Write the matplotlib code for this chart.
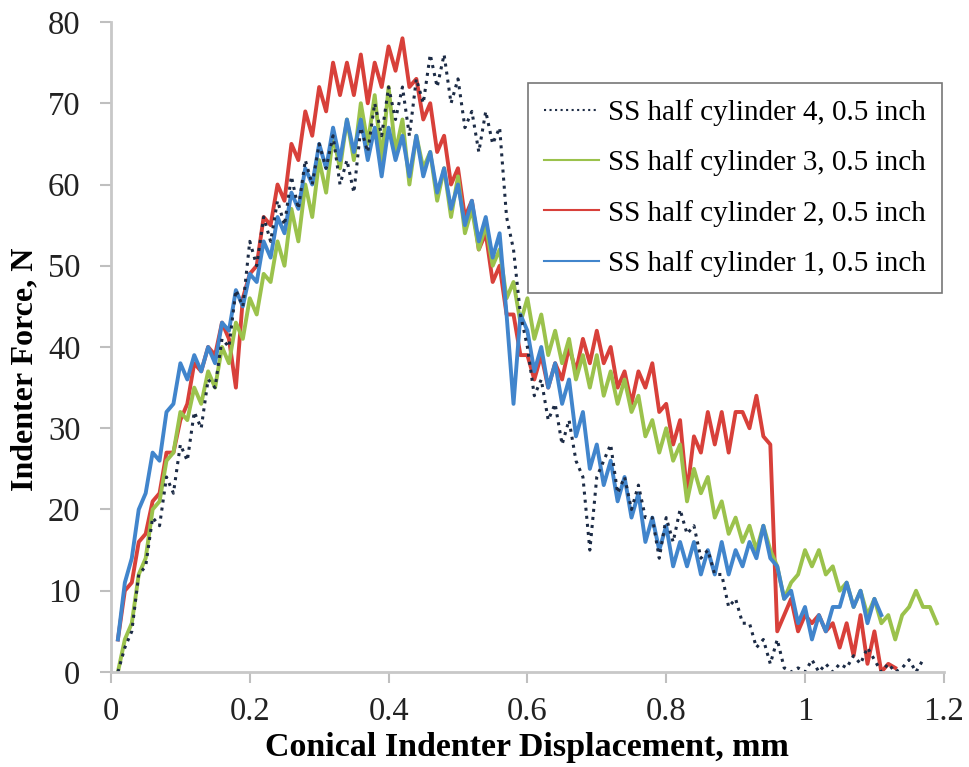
import numpy as np
import matplotlib
matplotlib.use("Agg")
import matplotlib.pyplot as plt

plt.rcParams['font.family'] = ['Liberation Serif', 'DejaVu Serif']

# force readings (N), sampled every 0.01 mm starting at 0.01 mm
step = 0.01
force_4 = [0, 3, 5, 12, 13, 19, 18, 24, 22, 28,
           26, 32, 30, 36, 35, 41, 40, 47, 45, 53,
           50, 56, 53, 58, 55, 61, 57, 63, 60, 65,
           62, 66, 60, 63, 59, 67, 64, 70, 66, 72,
           68, 72, 66, 73, 70, 76, 72, 76, 70, 73,
           67, 69, 64, 69, 65, 67, 56, 52, 44, 40,
           34, 36, 31, 33, 28, 31, 26, 24, 15, 24,
           26, 28, 22, 24, 20, 23, 19, 19, 14, 19,
           16, 20, 17, 18, 14, 15, 12, 12, 8, 9,
           6, 6, 3, 4, 1, 4, 0.5, 0, 0.5, 0,
           1.5, 0, 1, 0, 1, 0.5, 2, 1, 3, 1.5,
           0, 1, 0, 0.5, 1.5, 0, 1.5]
force_3 = [0, 4, 6, 12, 14, 20, 21, 26, 27, 32,
           31, 35, 33, 37, 35, 40, 38, 43, 41, 46,
           44, 49, 48, 53, 50, 57, 53, 60, 56, 63,
           59, 66, 62, 68, 63, 70, 65, 71, 63, 72,
           64, 68, 60, 66, 62, 64, 58, 62, 56, 61,
           54, 57, 52, 55, 50, 52, 46, 48, 43, 46,
           41, 44, 39, 42, 38, 41, 36, 39, 35, 39,
           34, 37, 33, 36, 32, 34, 29, 31, 27, 30,
           26, 28, 21, 25, 22, 24, 19, 21, 17, 19,
           16, 18, 15, 18, 15, 13, 9, 11, 12, 15,
           13, 15, 12, 13, 10, 11, 8, 10, 7, 9,
           6, 7, 4, 7, 8, 10, 8, 8, 6]
force_2 = [4, 10, 11, 16, 17, 21, 22, 27, 27, 31,
           33, 38, 37, 40, 39, 43, 41, 35, 46, 49,
           50, 56, 55, 60, 58, 65, 63, 69, 66, 72,
           69, 75, 71, 75, 71, 76, 70, 75, 72, 77,
           74, 78, 72, 73, 68, 70, 64, 66, 60, 62,
           56, 58, 52, 54, 48, 50, 44, 44, 39, 39,
           36, 39, 35, 38, 36, 40, 37, 41, 38, 42,
           38, 40, 35, 37, 33, 37, 35, 38, 32, 33,
           28, 31, 22, 29, 27, 32, 28, 32, 27, 32,
           32, 30, 34, 29, 28, 5, 7, 9, 5, 7,
           6, 7, 5, 6, 3, 6, 2, 7, 1, 5,
           0, 1, 0.5]
force_1 = [4, 11, 14, 20, 22, 27, 26, 32, 33, 38,
           36, 39, 37, 40, 38, 43, 42, 47, 45, 49,
           48, 53, 51, 56, 54, 59, 57, 62, 60, 65,
           62, 67, 63, 68, 64, 68, 63, 67, 61, 67,
           63, 66, 61, 66, 61, 64, 59, 62, 57, 60,
           55, 58, 53, 56, 51, 54, 44, 33, 44, 42,
           37, 40, 35, 38, 33, 36, 29, 32, 25, 28,
           23, 26, 21, 24, 19, 22, 16, 19, 15, 18,
           13, 16, 13, 16, 12, 15, 12, 16, 12, 15,
           13, 16, 14, 18, 14, 13, 9, 10, 6, 8,
           4, 7, 5, 8, 8, 11, 8, 10, 6, 9, 7]

labels = ['SS half cylinder 4, 0.5 inch', 'SS half cylinder 3, 0.5 inch',
          'SS half cylinder 2, 0.5 inch', 'SS half cylinder 1, 0.5 inch']
xticks = [0, 0.2, 0.4, 0.6, 0.8, 1, 1.2]
xticklabels = ['0', '0.2', '0.4', '0.6', '0.8', '1', '1.2']
yticks = [0, 10, 20, 30, 40, 50, 60, 70, 80]


def disp(f):
    return np.arange(1, len(f) + 1) * step


fig = plt.figure(figsize=(9.7, 7.67), dpi=100)
ax = fig.add_axes([0.1144, 0.1239, 0.8586, 0.8474])

l2, = ax.plot(disp(force_2), force_2, color='#d8403a', lw=2.8, label=labels[2])
l3, = ax.plot(disp(force_3), force_3, color='#9bc24c', lw=2.8, label=labels[1])
l1, = ax.plot(disp(force_1), force_1, color='#4185cc', lw=2.8, label=labels[3])
l4, = ax.plot(disp(force_4), force_4, color='#1c2b45', lw=2.2, ls=':', label=labels[0])

ax.set_xlim(0, 1.2)
ax.set_ylim(0, 80)
ax.set_xticks(xticks)
ax.set_xticklabels(xticklabels)
ax.set_yticks(yticks)
ax.tick_params(labelsize=23.5, colors='#bfbfbf', labelcolor='#222222',
               length=8, width=1.5, direction='out')
ax.tick_params(axis='x', pad=10)
ax.tick_params(axis='y', pad=14)
for s in ['top', 'right']:
    ax.spines[s].set_visible(False)
for s in ['left', 'bottom']:
    ax.spines[s].set_color('#c8c8c8')
    ax.spines[s].set_linewidth(2)

ax.set_xlabel('Conical Indenter Displacement, mm', fontsize=24.5,
              fontweight='bold')
ax.xaxis.set_label_coords(0.5, -0.093)
ax.set_ylabel('Indenter Force, N', fontsize=23, fontweight='bold')
ax.yaxis.set_label_coords(-0.086, 0.465)

leg = fig.legend(handles=[l4, l3, l2, l1], loc='upper left',
                 bbox_to_anchor=(528 / 970, 1 - 83 / 767), fontsize=21,
                 frameon=True, fancybox=False, handlelength=1.9,
                 handletextpad=0.28, labelspacing=0.8, borderpad=0.55,
                 borderaxespad=0)
leg.get_frame().set_edgecolor('#555555')
leg.get_frame().set_linewidth(1.2)
for h in leg.get_lines():
    h.set_linewidth(1.5)

fig.savefig('out.png', dpi=100)
